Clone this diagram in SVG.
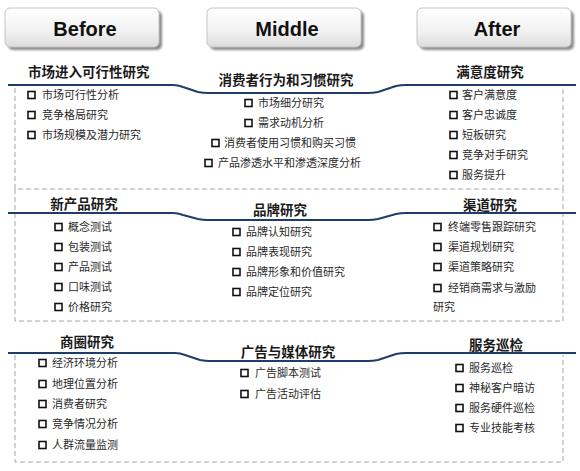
<svg xmlns="http://www.w3.org/2000/svg" width="580" height="471" viewBox="0 0 580 471">
<defs>
<linearGradient id="btnGrad" x1="0" y1="0" x2="0" y2="1">
<stop offset="0" stop-color="#ffffff"/>
<stop offset="0.6" stop-color="#f2f2f2"/>
<stop offset="1" stop-color="#dcdcdc"/>
</linearGradient>
<filter id="blur" x="-10%" y="-10%" width="130%" height="140%"><feGaussianBlur stdDeviation="1"/></filter>
</defs>
<style>
text{font-family:"Liberation Sans","Noto Sans CJK SC",sans-serif;dominant-baseline:central}
.btn{fill:url(#btnGrad);stroke:#c4c4c4;stroke-width:1}
.shadow{fill:#8c8c8c;filter:url(#blur)}
.btxt{font-size:20px;font-weight:bold;fill:#111;text-anchor:middle}
.hd{font-size:13.5px;font-weight:bold;fill:#1a1a1a}
.hdm{font-size:13.5px;font-weight:bold;fill:#1a1a1a;text-anchor:middle}
.it{font-size:11px;fill:#2a2a2a}
.cb{fill:#fff;stroke:#111;stroke-width:1.6}
.blue{fill:none;stroke:#1f3d6b;stroke-width:2}
.dash{fill:none;stroke:#a6a6a6;stroke-width:1;stroke-dasharray:5 3}
</style>
<rect width="580" height="471" fill="#ffffff"/>

<g id="connectors">
<path class="dash" d="M15,88 V189 H563 V88"/>
<path class="dash" d="M15,189 V321 H563 V189"/>
<path class="dash" d="M15,355 V462 H563 V355"/>
<path class="blue" d="M8,85 H173 Q178,85 183,87 L198,92 Q203,93 208,93 H368 Q373,93 378,92 L396,86 Q401,85 406,85 H576"/>
<path class="blue" d="M8,213 H173 Q178,213 183,215 L198,219 Q203,220 208,220 H368 Q373,220 378,219 L396,214 Q401,213 406,213 H576"/>
<path class="blue" d="M8,353 H175 Q180,353 185,355 L200,360 Q205,361 210,361 H368 Q373,361 378,360 L396,354 Q401,353 406,353 H576"/>
</g>

<g id="btn-before">
<rect class="shadow" x="8" y="11" width="154" height="39" rx="5"/>
<rect class="btn" x="5" y="8" width="154" height="39" rx="5"/>
<text class="btxt" x="85" y="29">Before</text>
</g>
<g id="btn-middle">
<rect class="shadow" x="210" y="11" width="154" height="39" rx="5"/>
<rect class="btn" x="207" y="8" width="154" height="39" rx="5"/>
<text class="btxt" x="287" y="29">Middle</text>
</g>
<g id="btn-after">
<rect class="shadow" x="420" y="11" width="154" height="39" rx="5"/>
<rect class="btn" x="417" y="8" width="154" height="39" rx="5"/>
<text class="btxt" x="497" y="29">After</text>
</g>

<g id="market-entry">
<text class="hd" x="28" y="72">市场进入可行性研究</text>
<rect class="cb" x="28" y="91.5" width="7" height="7"/><text class="it" x="42" y="95">市场可行性分析</text>
<rect class="cb" x="28" y="111.5" width="7" height="7"/><text class="it" x="42" y="115">竞争格局研究</text>
<rect class="cb" x="28" y="131.5" width="7" height="7"/><text class="it" x="42" y="135">市场规模及潜力研究</text>
</g>

<g id="consumer-behavior">
<text class="hdm" x="286" y="80">消费者行为和习惯研究</text>
<rect class="cb" x="245" y="99.5" width="7" height="7"/><text class="it" x="258" y="103">市场细分研究</text>
<rect class="cb" x="245" y="119.5" width="7" height="7"/><text class="it" x="258" y="123">需求动机分析</text>
<rect class="cb" x="212" y="139.5" width="7" height="7"/><text class="it" x="224" y="143">消费者使用习惯和购买习惯</text>
<rect class="cb" x="205" y="159.5" width="7" height="7"/><text class="it" x="218" y="163">产品渗透水平和渗透深度分析</text>
</g>

<g id="satisfaction">
<text class="hdm" x="490" y="72">满意度研究</text>
<rect class="cb" x="450" y="91.5" width="7" height="7"/><text class="it" x="462" y="95">客户满意度</text>
<rect class="cb" x="450" y="111.5" width="7" height="7"/><text class="it" x="462" y="115">客户忠诚度</text>
<rect class="cb" x="450" y="131.5" width="7" height="7"/><text class="it" x="462" y="135">短板研究</text>
<rect class="cb" x="450" y="151.5" width="7" height="7"/><text class="it" x="462" y="155">竞争对手研究</text>
<rect class="cb" x="450" y="171.5" width="7" height="7"/><text class="it" x="462" y="175">服务提升</text>
</g>

<g id="new-product">
<text class="hdm" x="84" y="204">新产品研究</text>
<rect class="cb" x="55" y="223.5" width="7" height="7"/><text class="it" x="68" y="227">概念测试</text>
<rect class="cb" x="55" y="243.5" width="7" height="7"/><text class="it" x="68" y="247">包装测试</text>
<rect class="cb" x="55" y="263.5" width="7" height="7"/><text class="it" x="68" y="267">产品测试</text>
<rect class="cb" x="55" y="283.5" width="7" height="7"/><text class="it" x="68" y="287">口味测试</text>
<rect class="cb" x="55" y="303.5" width="7" height="7"/><text class="it" x="68" y="307">价格研究</text>
</g>

<g id="brand">
<text class="hdm" x="280" y="210">品牌研究</text>
<rect class="cb" x="233" y="228.5" width="7" height="7"/><text class="it" x="246" y="232">品牌认知研究</text>
<rect class="cb" x="233" y="248.5" width="7" height="7"/><text class="it" x="246" y="252">品牌表现研究</text>
<rect class="cb" x="233" y="268.5" width="7" height="7"/><text class="it" x="246" y="272">品牌形象和价值研究</text>
<rect class="cb" x="233" y="288.5" width="7" height="7"/><text class="it" x="246" y="292">品牌定位研究</text>
</g>

<g id="channel">
<text class="hdm" x="490" y="205">渠道研究</text>
<rect class="cb" x="434" y="223.5" width="7" height="7"/><text class="it" x="448" y="227">终端零售跟踪研究</text>
<rect class="cb" x="434" y="243.5" width="7" height="7"/><text class="it" x="448" y="247">渠道规划研究</text>
<rect class="cb" x="434" y="263.5" width="7" height="7"/><text class="it" x="448" y="267">渠道策略研究</text>
<rect class="cb" x="434" y="284.5" width="7" height="7"/><text class="it" x="448" y="288">经销商需求与激励</text>
<text class="it" x="433" y="307">研究</text>
</g>

<g id="trade-area">
<text class="hdm" x="87" y="342">商圈研究</text>
<rect class="cb" x="39" y="359.5" width="7" height="7"/><text class="it" x="52" y="363">经济环境分析</text>
<rect class="cb" x="39" y="380.5" width="7" height="7"/><text class="it" x="52" y="384">地理位置分析</text>
<rect class="cb" x="39" y="400.5" width="7" height="7"/><text class="it" x="52" y="404">消费者研究</text>
<rect class="cb" x="39" y="420.5" width="7" height="7"/><text class="it" x="52" y="424">竞争情况分析</text>
<rect class="cb" x="39" y="441.5" width="7" height="7"/><text class="it" x="52" y="445">人群流量监测</text>
</g>

<g id="advertising">
<text class="hdm" x="288" y="352">广告与媒体研究</text>
<rect class="cb" x="241" y="369.5" width="7" height="7"/><text class="it" x="255" y="373">广告脚本测试</text>
<rect class="cb" x="241" y="390.5" width="7" height="7"/><text class="it" x="255" y="394">广告活动评估</text>
</g>

<g id="service-inspection">
<text class="hdm" x="496" y="345">服务巡检</text>
<rect class="cb" x="456" y="364.5" width="7" height="7"/><text class="it" x="469" y="368">服务巡检</text>
<rect class="cb" x="456" y="384.5" width="7" height="7"/><text class="it" x="469" y="388">神秘客户暗访</text>
<rect class="cb" x="456" y="404.5" width="7" height="7"/><text class="it" x="469" y="408">服务硬件巡检</text>
<rect class="cb" x="456" y="424.5" width="7" height="7"/><text class="it" x="469" y="428">专业技能考核</text>
</g>
</svg>
